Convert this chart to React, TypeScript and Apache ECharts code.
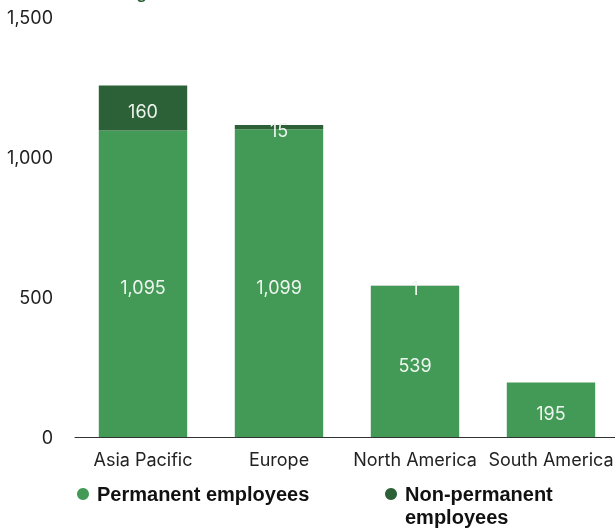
import React, { useEffect, useRef } from "react";
import * as echarts from "echarts";

const categories = ["Asia Pacific", "Europe", "North America", "South America"];
const permanent = [1095, 1099, 539, 195];
const nonPermanent = [160, 15, 1, 0];
const yTicks = { min: 0, max: 1500, interval: 500 };
const seriesNames = ["Permanent employees", "Non-permanent employees"];
const titleText = "Headcount in region";

const FONT = "Inter, 'Noto Sans', sans-serif";
const BOLD = "'Liberation Sans', Arial, sans-serif";

export default function App() {
  const ref = useRef<HTMLDivElement>(null);
  useEffect(() => {
    if (!ref.current) return;
    const chart = echarts.init(ref.current, null, { renderer: "svg" });
    const labelFmt = (p: any) => (p.value ? Number(p.value).toLocaleString("en-US") : "");
    const legendText = { fontFamily: BOLD, fontSize: 20, fontWeight: "bold", color: "#111", lineHeight: 22, padding: [0, 0, 0, 3] };
    chart.setOption({
      animation: false,
      textStyle: { fontFamily: FONT },
      grid: { left: 75, top: 17, right: -4, bottom: 91, containLabel: false, outerBoundsMode: "none" },
      graphic: [
        {
          type: "text",
          left: 8,
          top: -15,
          style: { text: titleText, fontFamily: BOLD, fontSize: 17, fontWeight: "bold", fill: "#2c6137" },
        },
        {
          type: "text",
          left: 405,
          top: 507,
          style: { text: "employees", fontFamily: BOLD, fontSize: 20, fontWeight: "bold", fill: "#111" },
        },
      ],
      legend: [
        {
          data: [seriesNames[0]],
          left: 77,
          top: 483,
          padding: 0,
          icon: "circle",
          itemWidth: 12,
          itemHeight: 12,
          textStyle: legendText,
        },
        {
          data: [seriesNames[1]],
          left: 385,
          top: 483,
          padding: 0,
          icon: "circle",
          itemWidth: 12,
          itemHeight: 12,
          formatter: () => "Non-permanent",
          textStyle: legendText,
        },
      ],
      xAxis: {
        type: "category",
        data: categories,
        axisLine: { lineStyle: { color: "#333", width: 1 } },
        axisTick: { show: false },
        axisLabel: { color: "#222", fontSize: 18, fontFamily: FONT, margin: 13, interval: 0 },
      },
      yAxis: {
        type: "value",
        min: yTicks.min,
        max: yTicks.max,
        interval: yTicks.interval,
        splitLine: { show: false },
        axisLine: { show: false },
        axisTick: { show: false },
        axisLabel: {
          color: "#222",
          fontSize: 18,
          fontFamily: FONT,
          margin: 22,
          formatter: (v: number) => v.toLocaleString("en-US"),
        },
      },
      series: [
        {
          name: seriesNames[0],
          type: "bar",
          stack: "total",
          data: permanent,
          barWidth: "65%",
          itemStyle: { color: "#439a57" },
          label: { show: true, position: "inside", offset: [0, 4], color: "#eef5ee", fontSize: 18, fontFamily: FONT, formatter: labelFmt },
        },
        {
          name: seriesNames[1],
          type: "bar",
          stack: "total",
          data: nonPermanent,
          barWidth: "65%",
          itemStyle: { color: "#2c6137" },
          label: { show: true, position: "inside", offset: [0, 3], color: "#eef5ee", fontSize: 18, fontFamily: FONT, formatter: labelFmt },
        },
      ],
    });
    return () => chart.dispose();
  }, []);
  return <div ref={ref} style={{ position: "fixed", left: 0, top: 0, width: 615, height: 528 }} />;
}
